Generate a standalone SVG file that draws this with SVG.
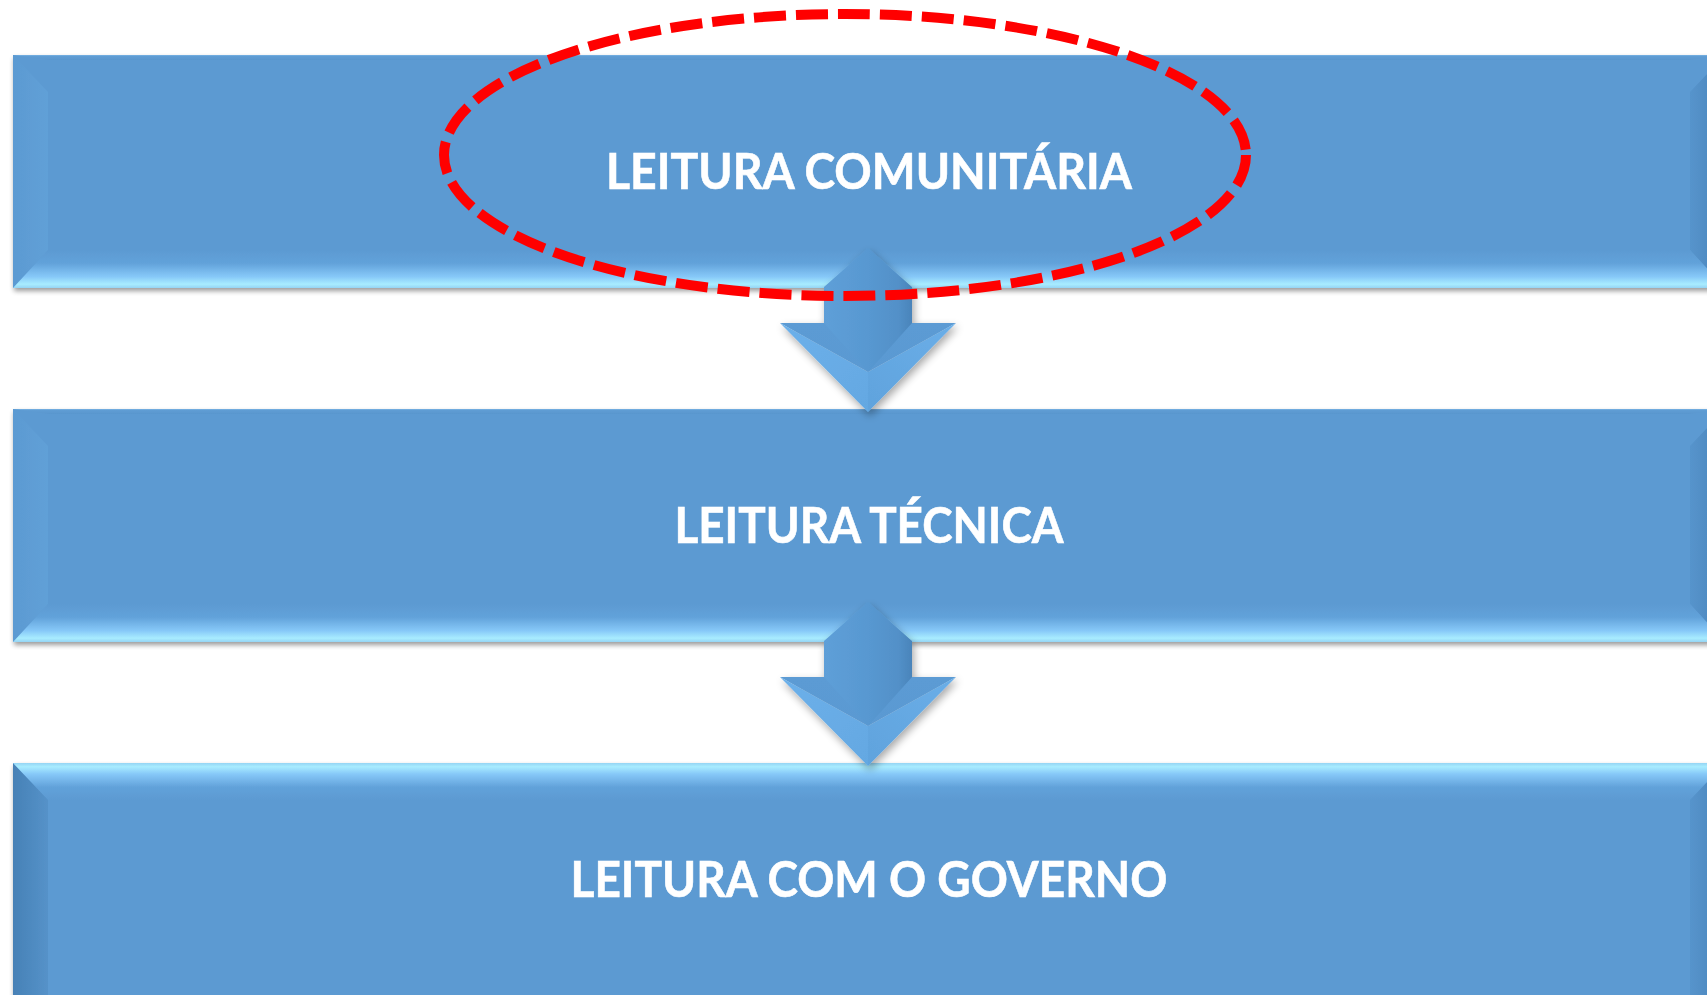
<svg xmlns="http://www.w3.org/2000/svg" width="1707" height="995" viewBox="0 0 1707 995">
  <defs>
    <linearGradient id="gBot" x1="0" y1="0" x2="0" y2="1">
      <stop offset="0" stop-color="#5c9ad2"/>
      <stop offset="0.35" stop-color="#62a2da"/>
      <stop offset="0.7" stop-color="#86c8f8"/>
      <stop offset="0.9" stop-color="#a8ecff"/>
      <stop offset="1" stop-color="#95d4f4"/>
    </linearGradient>
    <linearGradient id="gTopLight" x1="0" y1="1" x2="0" y2="0">
      <stop offset="0" stop-color="#5c9ad2"/>
      <stop offset="0.35" stop-color="#62a2da"/>
      <stop offset="0.7" stop-color="#86c8f8"/>
      <stop offset="0.9" stop-color="#a8ecff"/>
      <stop offset="1" stop-color="#95d4f4"/>
    </linearGradient>
    <linearGradient id="gTopThin" x1="0" y1="0" x2="0" y2="1">
      <stop offset="0" stop-color="#7ab5e6"/>
      <stop offset="0.25" stop-color="#5f9dd4"/>
      <stop offset="1" stop-color="#5996ce"/>
    </linearGradient>
    <linearGradient id="gLeftLight" x1="0" y1="0" x2="1" y2="0">
      <stop offset="0" stop-color="#5b9ad2"/>
      <stop offset="1" stop-color="#61a0d7"/>
    </linearGradient>
    <linearGradient id="gLeftDark" x1="0" y1="0" x2="1" y2="0">
      <stop offset="0" stop-color="#4781b6"/>
      <stop offset="1" stop-color="#5592c9"/>
    </linearGradient>
    <linearGradient id="gRight" x1="0" y1="0" x2="1" y2="0">
      <stop offset="0" stop-color="#5694cc"/>
      <stop offset="1" stop-color="#4a84ba"/>
    </linearGradient>
    <linearGradient id="gShaft" x1="0" y1="0" x2="1" y2="0">
      <stop offset="0" stop-color="#5e9fd8"/>
      <stop offset="0.5" stop-color="#5898d1"/>
      <stop offset="0.85" stop-color="#5290c8"/>
      <stop offset="1" stop-color="#4a84ba"/>
    </linearGradient>
    <linearGradient id="gHeadTop" x1="0" y1="0" x2="0" y2="1">
      <stop offset="0" stop-color="#5b9bd4"/>
      <stop offset="1" stop-color="#5a99d2"/>
    </linearGradient>
    <linearGradient id="gWingL" x1="0" y1="0" x2="1" y2="1">
      <stop offset="0" stop-color="#6cb0ea"/>
      <stop offset="1" stop-color="#64a8e2"/>
    </linearGradient>
    <linearGradient id="gWingR" x1="1" y1="0" x2="0" y2="1">
      <stop offset="0" stop-color="#6aaee8"/>
      <stop offset="1" stop-color="#60a3dd"/>
    </linearGradient>
    <filter id="shadow" x="-5%" y="-10%" width="110%" height="125%">
      <feGaussianBlur in="SourceAlpha" stdDeviation="2.5"/>
      <feOffset dx="1" dy="3" result="b"/>
      <feComponentTransfer><feFuncA type="linear" slope="0.4"/></feComponentTransfer>
      <feMerge><feMergeNode/><feMergeNode in="SourceGraphic"/></feMerge>
    </filter>
    <filter id="ashadow" x="-30%" y="-20%" width="160%" height="150%">
      <feGaussianBlur in="SourceAlpha" stdDeviation="4"/>
      <feOffset dx="2" dy="4" result="b"/>
      <feComponentTransfer><feFuncA type="linear" slope="0.35"/></feComponentTransfer>
      <feMerge><feMergeNode/><feMergeNode in="SourceGraphic"/></feMerge>
    </filter>
  </defs>
  <style>
    .face { fill: #5c9ad2; }
    .label { font-family: Lato, "Open Sans", "Liberation Sans", sans-serif; font-weight: 700; font-size: 50px; fill: #ffffff; text-anchor: middle; stroke: #ffffff; stroke-width: 0.6px; }
    .ring { fill: none; stroke: #ff0000; stroke-width: 10; stroke-dasharray: 32 10; }
  </style>
  <rect width="1707" height="995" fill="#ffffff"/>

  <g id="node-leitura-comunitaria" filter="url(#shadow)">
    <rect class="face" x="13" y="55" width="1712" height="233"/>
    <polygon points="13,55 1725,55 1690,60 48,60" fill="url(#gTopThin)"/>
    <polygon points="13,55 48,92 48,250 13,288" fill="url(#gLeftLight)"/>
    <polygon points="1725,55 1690,92 1690,250 1725,288" fill="url(#gRight)"/>
    <polygon points="13,288 48,250 1690,250 1725,288" fill="url(#gBot)"/>
    <text class="label" x="869" y="189" textLength="526" lengthAdjust="spacingAndGlyphs">LEITURA COMUNITÁRIA</text>
  </g>

  <g id="node-leitura-tecnica" filter="url(#shadow)">
    <rect class="face" x="13" y="409" width="1712" height="233"/>
    <polygon points="13,409 1725,409 1690,414 48,414" fill="url(#gTopThin)"/>
    <polygon points="13,409 48,446 48,604 13,642" fill="url(#gLeftLight)"/>
    <polygon points="1725,409 1690,446 1690,604 1725,642" fill="url(#gRight)"/>
    <polygon points="13,642 48,604 1690,604 1725,642" fill="url(#gBot)"/>
    <text class="label" x="869" y="543" textLength="389" lengthAdjust="spacingAndGlyphs">LEITURA TÉCNICA</text>
  </g>

  <g id="node-leitura-governo" filter="url(#shadow)">
    <rect class="face" x="13" y="763" width="1712" height="240"/>
    <polygon points="13,763 48,798 48,1003 13,1003" fill="url(#gLeftDark)"/>
    <polygon points="1725,763 1690,798 1690,1003 1725,1003" fill="url(#gRight)"/>
    <polygon points="13,763 1725,763 1690,800 48,800" fill="url(#gTopLight)"/>
    <text class="label" x="869" y="897" textLength="597" lengthAdjust="spacingAndGlyphs">LEITURA COM O GOVERNO</text>
  </g>

  <g id="connectors">
    <g id="arrow-1" filter="url(#ashadow)">
      <polygon points="868,248 912,287 912,323 824,323 824,287" fill="url(#gShaft)"/>
      <polygon points="780,323 956,323 868,372" fill="url(#gHeadTop)"/>
      <polygon points="824,323 912,323 868,372" fill="url(#gShaft)"/>
      <polygon points="780,323 868,372 868,412" fill="url(#gWingL)"/>
      <polygon points="956,323 868,372 868,412" fill="url(#gWingR)"/>
    </g>
    <g id="arrow-2" filter="url(#ashadow)">
      <polygon points="868,602 912,641 912,677 824,677 824,641" fill="url(#gShaft)"/>
      <polygon points="780,677 956,677 868,726" fill="url(#gHeadTop)"/>
      <polygon points="824,677 912,677 868,726" fill="url(#gShaft)"/>
      <polygon points="780,677 868,726 868,766" fill="url(#gWingL)"/>
      <polygon points="956,677 868,726 868,766" fill="url(#gWingR)"/>
    </g>
  </g>

  <g id="highlight-ellipse">
    <ellipse class="ring" cx="845" cy="155" rx="401" ry="141"/>
  </g>
</svg>
